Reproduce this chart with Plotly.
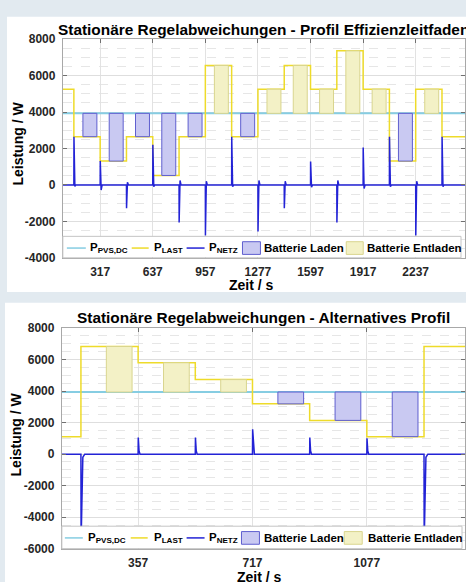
import plotly.graph_objects as go

W, H = 466, 582

# ---------------- data: top chart ----------------
top_title = "Stationäre Regelabweichungen - Profil Effizienzleitfaden"
top_seg_start = [90, 157, 317, 477, 637, 797, 957, 1117, 1277, 1437, 1597, 1757, 1917, 2077, 2237, 2397]
top_load = [5260, 2650, 1310, 2650, 520, 2650, 6560, 2650, 5260, 6560, 5260, 7360, 5260, 1310, 5260, 2650]
top_t_end = 2537
top_pv = 3930
top_box_window = [55, 140]  # s after each load step
top_spike_peak = [2650, 1320, -1280, 2200, -2060, -2770, 2650, -2560, -1280, 1280, -2060, 2060, 2650, -2770, 2650]
top_spike_tail = [500, 300, -250, 400, -350, -450, 500, -420, -220, 220, -350, 350, 500, -450, 500]
top_spike_over = [-80, -280, 150, -100, 250, 200, -100, 250, 200, -120, 250, -200, -100, 200, -100]
top_xticks = [317, 637, 957, 1277, 1597, 1917, 2237]
top_yticks = [-4000, -2000, 0, 2000, 4000, 6000, 8000]
top_yrange = [-4000, 8000]

# ---------------- data: bottom chart ----------------
bot_title = "Stationäre Regelabweichungen - Alternatives Profil"
bot_seg_start = [117, 177, 357, 537, 717, 897, 1077, 1257]
bot_load = [1110, 6830, 5800, 4730, 3190, 2140, 1110, 6830]
bot_t_end = 1386
bot_pv = 3940
bot_box_window = [80, 161]
bot_spike_peak = [-5600, 1050, 1050, 1580, 1060, 1000, -5600]
bot_spike_tail = [-2500, 200, 200, 650, 200, 200, -2500]
bot_spike_over = [-200, 0, 0, 0, 0, 0, -200]
bot_xticks = [357, 717, 1077]
bot_yticks = [-6000, -4000, -2000, 0, 2000, 4000, 6000, 8000]
bot_yrange = [-6000, 8000]

# ---------------- styles ----------------
FONT = "Liberation Sans, Arial, sans-serif"
PV_COLOR = "#86cde2"
LAST_COLOR = "#eedb2a"
NETZ_COLOR = "#2323d6"
LADEN_FILL = "#c9c9f2"
LADEN_LINE = "#5f5fcf"
ENTL_FILL = "#f3f1c6"
ENTL_LINE = "#d9d58e"
PAGE_BG = "#e2eaf0"


def px(x):
    return x / W


def py(y):
    return 1 - y / H


fig = go.Figure()


def add_chart(xa, ya, seg_start, load, t_end, pv, win, peak, tail, over):
    xs = "x" if xa == 1 else f"x{xa}"
    ys = "y" if ya == 1 else f"y{ya}"
    t0 = seg_start[0]
    # PV line
    fig.add_trace(go.Scatter(x=[t0, t_end], y=[pv, pv], mode="lines",
                             line=dict(color=PV_COLOR, width=2), xaxis=xs, yaxis=ys,
                             showlegend=False, hoverinfo="skip"))
    # load step line
    fig.add_trace(go.Scatter(x=seg_start + [t_end], y=load + [load[-1]], mode="lines",
                             line=dict(color=LAST_COLOR, width=1.5, shape="hv"),
                             xaxis=xs, yaxis=ys, showlegend=False, hoverinfo="skip"))
    # battery boxes
    lx, ly, ex, ey = [], [], [], []
    for i in range(1, len(seg_start) - 1):
        a = seg_start[i] + win[0]
        b = seg_start[i] + win[1]
        v = load[i]
        bx = [a, b, b, a, a, None]
        by = [v, v, pv, pv, v, None]
        if v < pv:
            lx += bx
            ly += by
        else:
            ex += bx
            ey += by
    fig.add_trace(go.Scatter(x=lx, y=ly, mode="lines", fill="toself", fillcolor=LADEN_FILL,
                             line=dict(color=LADEN_LINE, width=1), xaxis=xs, yaxis=ys,
                             showlegend=False, hoverinfo="skip"))
    if ex:
        fig.add_trace(go.Scatter(x=ex, y=ey, mode="lines", fill="toself", fillcolor=ENTL_FILL,
                                 line=dict(color=ENTL_LINE, width=1), xaxis=xs, yaxis=ys,
                                 showlegend=False, hoverinfo="skip"))
    # grid power with spikes at each load step
    nx, ny = [t0], [0]
    for k, t in enumerate(seg_start[1:]):
        nx += [t, t + 0.5, t + 3, t + 6, t + 12]
        ny += [0, peak[k], tail[k], over[k], 0]
    nx.append(t_end)
    ny.append(0)
    fig.add_trace(go.Scatter(x=nx, y=ny, mode="lines", line=dict(color=NETZ_COLOR, width=1.5),
                             xaxis=xs, yaxis=ys, showlegend=False, hoverinfo="skip"))


add_chart(1, 1, top_seg_start, top_load, top_t_end, top_pv, top_box_window,
          top_spike_peak, top_spike_tail, top_spike_over)
add_chart(2, 2, bot_seg_start, bot_load, bot_t_end, bot_pv, bot_box_window,
          bot_spike_peak, bot_spike_tail, bot_spike_over)

tickfont = dict(family=FONT, size=12, color="#262626", weight="bold")


def xaxis_cfg(domain, rng, ticks):
    return dict(domain=domain, range=rng, tickvals=ticks, ticktext=[str(t) for t in ticks],
                tickfont=tickfont, showgrid=True, gridcolor="#e2e2e2", gridwidth=1,
                zeroline=False, showline=True, linecolor="#a8a8a8", mirror="ticks",
                ticks="inside", ticklen=4, tickcolor="#707070", ticklabelstandoff=3)


def yaxis_cfg(domain, rng, ticks):
    return dict(domain=domain, range=rng, tickvals=ticks, ticktext=[str(t) for t in ticks],
                tickfont=tickfont, showgrid=True, gridcolor="#dedede", gridwidth=1,
                zeroline=False, showline=True, linecolor="#a8a8a8", mirror="ticks",
                ticks="inside", ticklen=4, tickcolor="#707070", ticklabelstandoff=4,
                minor=dict(dtick=500, showgrid=True, gridcolor="#e6e6e6", griddash="dash",
                           ticks=""))


fig.update_layout(
    width=W, height=H, margin=dict(l=0, r=0, t=0, b=0),
    paper_bgcolor=PAGE_BG, plot_bgcolor="white", showlegend=False,
    xaxis=xaxis_cfg([px(63), 1.0], [90, top_t_end], top_xticks),
    yaxis=yaxis_cfg([py(257), py(33)], top_yrange, top_yticks),
    xaxis2=dict(xaxis_cfg([px(62), 1.0], [117, bot_t_end], bot_xticks), anchor="y2"),
    yaxis2=dict(yaxis_cfg([py(555), py(329)], bot_yrange, bot_yticks), anchor="x2"),
)

shapes = [
    dict(type="rect", xref="paper", yref="paper", x0=px(7), x1=px(480), y0=py(292), y1=py(10),
         fillcolor="white", line=dict(width=0), layer="below"),
    dict(type="rect", xref="paper", yref="paper", x0=px(5), x1=px(480), y0=py(600), y1=py(303),
         fillcolor="white", line=dict(width=0), layer="below"),
]
annotations = []

afont = dict(family=FONT, color="black", weight="bold")


def add_legend(x0, x1, y0, y1, cy, lines, texts, boxes):
    shapes.append(dict(type="rect", xref="paper", yref="paper", x0=px(x0), x1=px(x1),
                       y0=py(y1), y1=py(y0), fillcolor="white",
                       line=dict(color="#c4c4c4", width=1), layer="above"))
    for (a, b), col in zip(lines, [PV_COLOR, LAST_COLOR, NETZ_COLOR]):
        shapes.append(dict(type="line", xref="paper", yref="paper", x0=px(a), x1=px(b),
                           y0=py(cy), y1=py(cy), line=dict(color=col, width=1.5), layer="above"))
    for (a, b), fc, lc in zip(boxes, [LADEN_FILL, ENTL_FILL], [LADEN_LINE, ENTL_LINE]):
        shapes.append(dict(type="rect", xref="paper", yref="paper", x0=px(a), x1=px(b),
                           y0=py(cy + 6.5), y1=py(cy - 6.5), fillcolor=fc,
                           line=dict(color=lc, width=1), layer="above"))
    labels = ["P<sub>PVS,DC</sub>", "P<sub>LAST</sub>", "P<sub>NETZ</sub>",
              "Batterie Laden", "Batterie Entladen"]
    for tx, lab in zip(texts, labels):
        annotations.append(dict(x=px(tx), y=py(cy), xref="paper", yref="paper", text=lab,
                                showarrow=False, xanchor="left", yanchor="middle",
                                font=dict(afont, size=11.5)))


add_legend(63, 462, 235, 257, 247,
           [(67, 86), (132, 149), (187, 205)], [88, 152, 207, 263, 366],
           [(243, 261), (347, 364)])
add_legend(62, 463, 532, 555, 544,
           [(65, 83), (131, 148), (187, 205)], [86, 152, 207, 263, 367],
           [(242, 260), (345, 363)])

# titles and axis labels
annotations += [
    dict(x=px(264.5), y=py(23), text=top_title, font=dict(afont, size=15.4)),
    dict(x=px(264), y=py(318), text=bot_title, font=dict(afont, size=15.4)),
    dict(x=px(18), y=py(140), text="Leistung / W", textangle=-90, font=dict(afont, size=14)),
    dict(x=px(17), y=py(438), text="Leistung / W", textangle=-90, font=dict(afont, size=14)),
    dict(x=px(252), y=py(285), text="Zeit / s", font=dict(afont, size=14)),
    dict(x=px(260), y=py(584), text="Zeit / s", font=dict(afont, size=14)),
]
for a in annotations[-6:]:
    a.update(xref="paper", yref="paper", showarrow=False, xanchor="center", yanchor="middle")

fig.update_layout(shapes=shapes, annotations=annotations)
fig.write_html("out.html", config={"displayModeBar": False},
               post_script="document.body.style.margin='0';document.body.style.overflow='hidden';")
